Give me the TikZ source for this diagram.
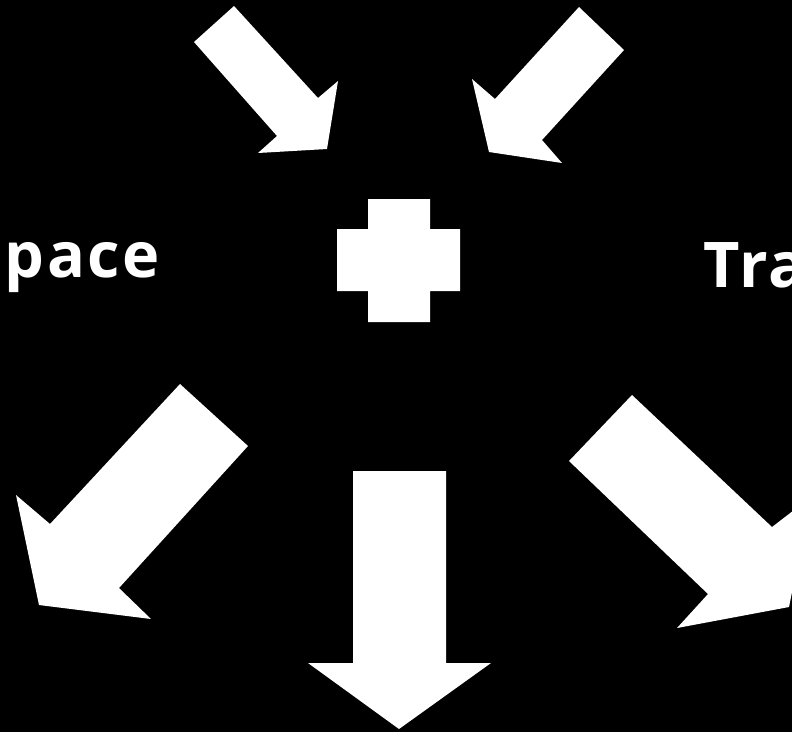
\documentclass[tikz,border=0pt]{standalone}
\usepackage{fontspec}
\setmainfont{Open Sans}[LetterSpace=4]
\begin{document}
\begin{tikzpicture}[x=1pt,y=-1pt,
  shp/.style={fill=white,draw=none},
  lbl/.style={text=white,font=\bfseries\fontsize{63}{72}\selectfont,inner sep=0pt}]
\useasboundingbox (0,0) rectangle (792,732);
\clip (0,0) rectangle (792,732);
\fill[black] (0,0) rectangle (792,732);
% top-left arrow
\fill[shp] (234,6) -- (318,98) -- (338,81) -- (327,149) -- (258,153) -- (277,136) -- (194,42) -- cycle;
% top-right arrow
\fill[shp] (579,7) -- (624,50) -- (542,140) -- (562,163) -- (489,152) -- (472,79) -- (495,99) -- cycle;
% plus
\fill[shp] (368,199) -- (430,199) -- (430,229) -- (460,229) -- (460,291) -- (430,291) -- (430,322) -- (368,322) -- (368,291) -- (337,291) -- (337,229) -- (368,229) -- cycle;
% bottom-left arrow
\fill[shp] (180,384) -- (248,446) -- (119,588) -- (151,619) -- (39,605) -- (16,495) -- (50,524) -- cycle;
% bottom-right arrow
\fill[shp] (632,395) -- (569,461) -- (708,594) -- (677,628) -- (789,607) -- (811,497) -- (772,527) -- cycle;
% bottom arrow
\fill[shp] (353,471) -- (446,471) -- (446,663) -- (491,663) -- (399,729) -- (308,663) -- (353,663) -- cycle;
% labels
\node[lbl,anchor=base east] (lspace) at (160,277) {space};
\node[lbl,anchor=base west] (ltra) at (703,287) {Tra};
\end{tikzpicture}
\end{document}
